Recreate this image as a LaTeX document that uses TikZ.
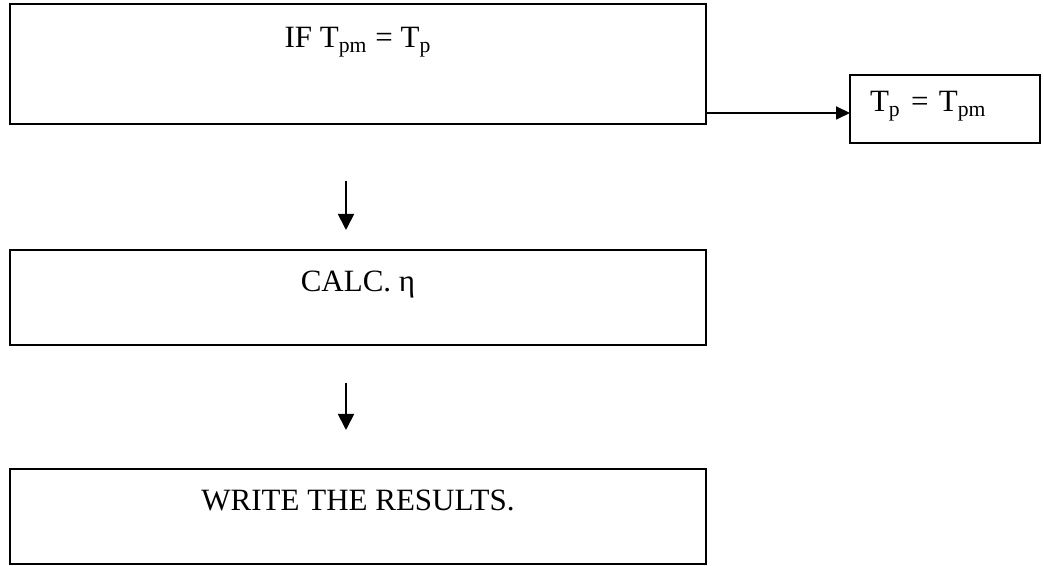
\documentclass[tikz,border=0pt]{standalone}
\usepackage{fontspec}
\setmainfont{Liberation Serif}
\usetikzlibrary{positioning}
\usetikzlibrary{arrows.meta}
\tikzset{
    bigbox/.style = {rectangle, line width=1pt, draw=black, inner sep=0pt, outer sep=0pt, minimum width=348pt, minimum height=60pt, text height=22pt, text depth=38pt},
    flatbox/.style = {rectangle, line width=1pt, draw=black, inner sep=0pt, outer sep=0pt, minimum width=348pt, minimum height=47.5pt, text height=21pt, text depth=26.5pt},
    sidebox/.style = {rectangle, line width=1pt, draw=black, inner xsep=10pt, inner ysep=0pt, outer sep=0pt, text width=75pt, align=left, minimum height=34pt, text height=18.5pt, text depth=15.5pt},
    flow/.style = {-{Triangle[length=8pt,width=8pt]}, line width=0.9pt, black},
    flowr/.style = {-{Triangle[length=7pt,width=6.5pt]}, line width=0.9pt, black} % sideways
}
\begin{document}
\begin{tikzpicture}[font=\fontsize{15.5pt}{18pt}\selectfont]
  \useasboundingbox (0,0) rectangle (522pt,283pt);

  \node[bigbox] (ifnode) at (179pt,251pt) {IF T\textsubscript{pm} = T\textsubscript{p}};
  \node[flatbox, below=63pt of ifnode] (calcnode) {CALC. η};
  \node[flatbox, below=62pt of calcnode] (writenode) {WRITE THE RESULTS.};
  \node[sidebox] (setnode) at (472.5pt,228.5pt) {T\textsubscript{p} = T\textsubscript{pm}};

  % branch out of the test box
  \coordinate (branch) at ([yshift=-24.5pt]ifnode.east);
  \draw[flowr] (branch) -- (branch -| setnode.west);

  % free standing arrows between the boxes
  \draw[flow, shorten <=28.5pt, shorten >=10pt] ([xshift=-6pt]ifnode.south) -- ([xshift=-6pt]calcnode.north);
  \draw[flow, shorten <=19pt, shorten >=19.5pt] ([xshift=-6pt]calcnode.south) -- ([xshift=-6pt]writenode.north);
\end{tikzpicture}
\end{document}
